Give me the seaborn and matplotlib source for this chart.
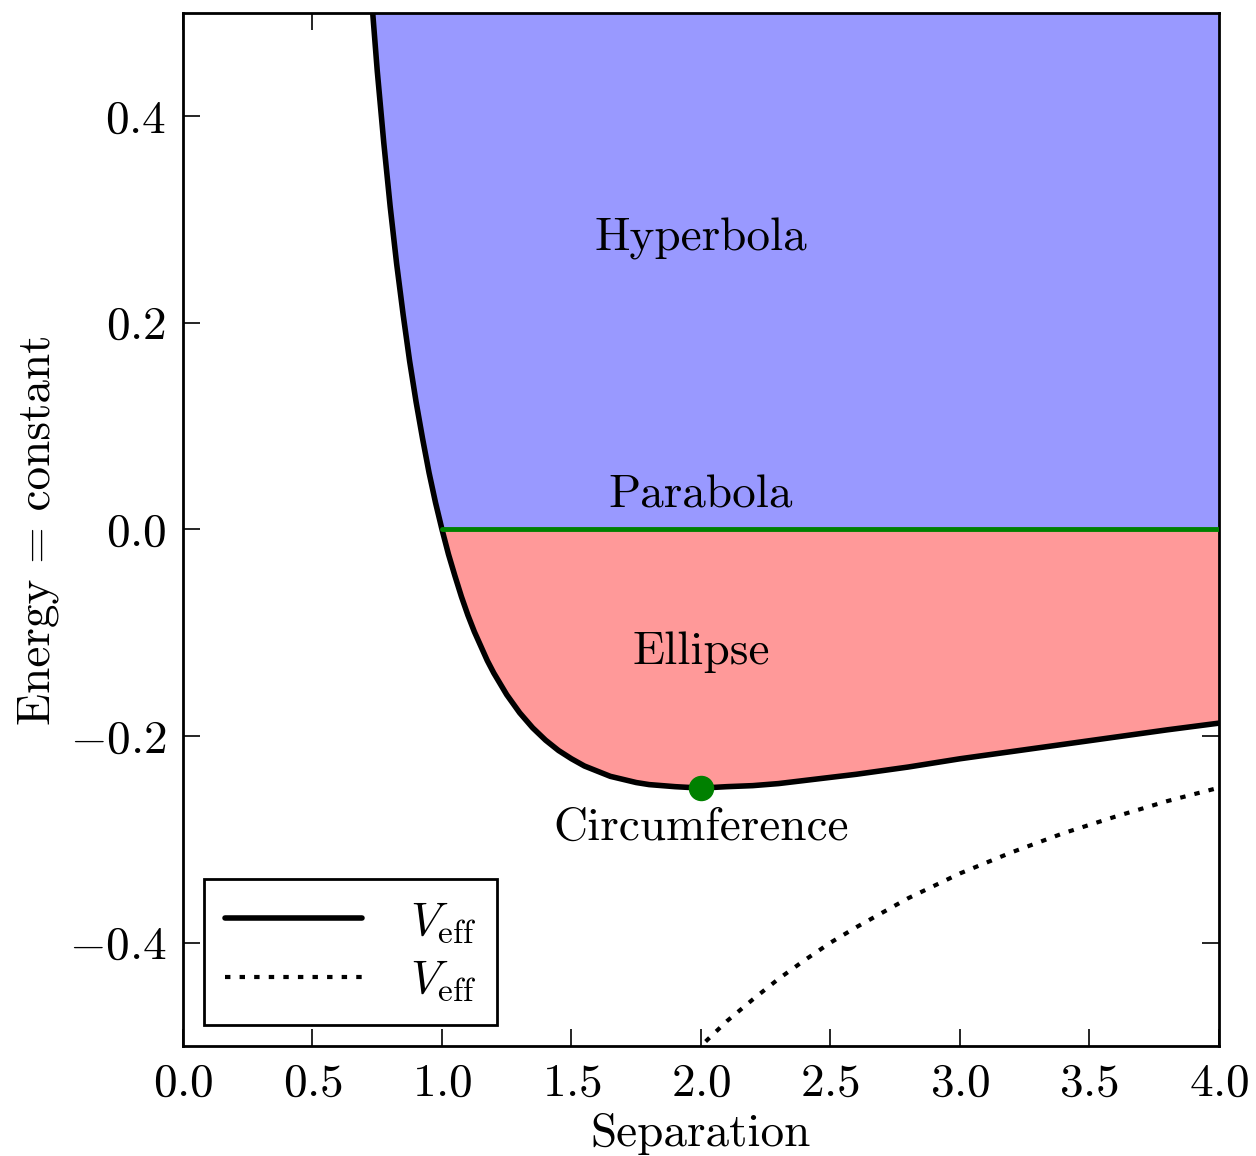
import numpy as np
import pandas as pd
import matplotlib
matplotlib.use('Agg')
import matplotlib.pyplot as plt
import seaborn as sns

# values
sep = [0.72, 0.75, 0.775, 0.8, 0.825, 0.85, 0.875, 0.9, 0.925, 0.95, 0.975, 1.0,
       1.025, 1.05, 1.075, 1.1, 1.125, 1.15, 1.175, 1.2, 1.25, 1.3, 1.35, 1.4, 1.45,
       1.5, 1.55, 1.6, 1.65, 1.7, 1.75, 1.8, 1.85, 1.9, 1.95, 2.0,
       2.05, 2.1, 2.15, 2.2, 2.3, 2.4, 2.5, 2.6, 2.8, 3.0, 3.2, 3.4, 3.6, 3.8, 4.0]
veff = [0.540, 0.444, 0.375, 0.3125, 0.257, 0.208, 0.163, 0.1235, 0.088, 0.055, 0.026, 0.0,
        -0.024, -0.045, -0.065, -0.083, -0.099, -0.113, -0.127, -0.139, -0.160, -0.1775, -0.192, -0.204, -0.214,
        -0.222, -0.229, -0.234, -0.239, -0.242, -0.245, -0.247, -0.248, -0.249, -0.2497, -0.250,
        -0.2497, -0.249, -0.2485, -0.248, -0.246, -0.243, -0.240, -0.237, -0.230, -0.222, -0.215, -0.208, -0.201, -0.194, -0.1875]
sep_dot = [1.9, 2.0, 2.1, 2.2, 2.3, 2.4, 2.5, 2.6, 2.8, 3.0, 3.2, 3.4, 3.6, 3.8, 4.0]
v_dot = [-0.526, -0.500, -0.476, -0.455, -0.435, -0.417, -0.400, -0.385, -0.357, -0.333, -0.3125, -0.294, -0.278, -0.263, -0.250]
circ_x, circ_y = [2.0], [-0.25]

sns.set_style('ticks')
plt.rcParams['font.family'] = ['cmr10', 'DejaVu Serif']
plt.rcParams['mathtext.fontset'] = 'cm'
plt.rcParams['axes.formatter.use_mathtext'] = True
plt.rcParams['axes.unicode_minus'] = True
plt.rcParams['text.color'] = 'black'
plt.rcParams['axes.labelcolor'] = 'black'
plt.rcParams['xtick.color'] = 'black'
plt.rcParams['ytick.color'] = 'black'

df = pd.DataFrame({'sep': sep, 'veff': veff})
dfd = pd.DataFrame({'sep': sep_dot, 'v': v_dot})

fig = plt.figure(figsize=(12.56, 11.56), dpi=100)
ax = fig.add_axes([0.1457, 0.0952, 0.8248, 0.8936])

x = np.array(sep)
y = np.array(veff)
top = 0.5
ax.fill_between(x, np.maximum(y, 0), top, color='#9999ff', lw=0, zorder=1)
ax.fill_between(x, y, 0, where=(x >= 1.0), color='#ff9999', lw=0, zorder=1)

sns.lineplot(data=df, x='sep', y='veff', color='black', lw=4, ax=ax,
             label=r'$V_{\rm eff}$', zorder=3, sort=False)
sns.lineplot(data=dfd, x='sep', y='v', color='black', lw=3, dashes=False, ax=ax,
             label=r'$V_{\rm eff}$', zorder=3, sort=False)
ax.lines[1].set_dashes([1.3, 2.2])
ax.plot([1.0, 4.0], [0, 0], color='green', lw=3.5, zorder=4)
ax.scatter(circ_x, circ_y, s=300, color='green', zorder=5)

fs = 34
ax.text(2.0, 0.281, 'Hyperbola', ha='center', va='center', fontsize=fs)
ax.text(2.0, 0.033, 'Parabola', ha='center', va='center', fontsize=fs)
ax.text(2.0, -0.119, 'Ellipse', ha='center', va='center', fontsize=fs)
ax.text(2.0, -0.289, 'Circumference', ha='center', va='center', fontsize=fs)

ax.set_xlim(0, 4)
ax.set_ylim(-0.5, 0.5)
ax.set_xticks(np.arange(0, 4.01, 0.5))
ax.set_yticks([-0.4, -0.2, 0.0, 0.2, 0.4])
ax.tick_params(direction='in', length=12, width=1.2, top=True, right=True,
               labelsize=fs, pad=12)
for s in ax.spines.values():
    s.set_linewidth(2)
    s.set_color('black')
ax.set_xlabel('Separation', fontsize=fs, labelpad=6)
ax.set_ylabel('Energy = constant', fontsize=fs, labelpad=7)

leg = ax.legend(loc='lower left', fontsize=fs, frameon=True, fancybox=False,
                edgecolor='black', handlelength=2.9, borderaxespad=0.45,
                borderpad=0.45, labelspacing=0.3, handletextpad=1.0)
leg.get_frame().set_linewidth(2)
leg.get_frame().set_alpha(1)

fig.savefig('out.png', dpi=100)
